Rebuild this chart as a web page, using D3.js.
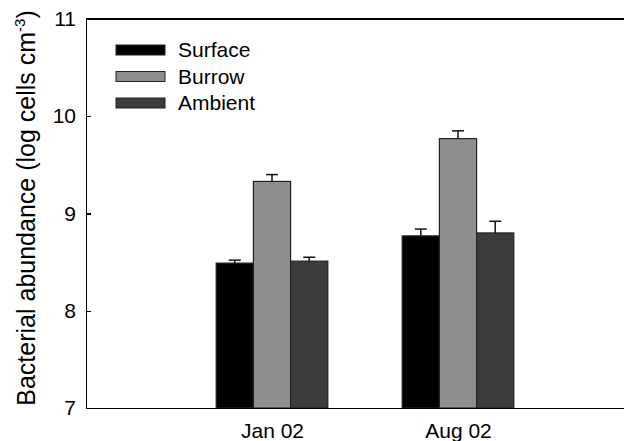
<!DOCTYPE html>
<html>
<head>
<meta charset="utf-8">
<title>bacterial abundance</title>
<script src="https://cdn.jsdelivr.net/npm/d3@7/dist/d3.min.js"></script>
<style>
    body { margin: 0; background: white; }
    svg { display: block; font-family: "Liberation Sans", Arial, sans-serif; }
    .axis path, .axis line { fill: none; stroke: black; stroke-width: 1.3; shape-rendering: crispEdges; }
    .axis text { fill: black; font-size: 21px; }
</style>
</head>
<body>
<script>
    // sampling dates and series
    var dates = ["Jan 02", "Aug 02"];
    var series = ["Surface", "Burrow", "Ambient"];
    var colors = ["#000000", "#8e8e8e", "#3c3c3c"];

    // log cells cm-3, one value per date
    var surface = [8.49, 8.77];
    var burrow = [9.33, 9.77];
    var ambient = [8.51, 8.80];
    // error (upper bar only)
    var surfaceErr = [0.03, 0.07];
    var burrowErr = [0.07, 0.08];
    var ambientErr = [0.04, 0.12];

    var yTicks = [7, 8, 9, 10, 11];

    var w = 624, h = 441;
    var padLeft = 86, padTop = 19, padBottom = 408; // plot frame edges

    var values = [surface, burrow, ambient];
    var errs = [surfaceErr, burrowErr, ambientErr];
    var rows = [];
    series.forEach(function(s, si) {
        dates.forEach(function(d, di) {
            rows.push({ series: s, si: si, di: di, value: values[si][di], err: errs[si][di] });
        });
    });

    // x: dates at 1 and 2, axis runs to 3 (past the window edge)
    var x = d3.scaleLinear().domain([0, 3]).range([padLeft, padLeft + 3 * 186]);
    var inner = d3.scaleBand().domain(series).range([-0.3, 0.3]);
    var y = d3.scaleLinear().domain([7, 11]).range([padBottom, padTop]);

    function barMid(d) {
        return x(d.di + 1 + inner(d.series) + inner.bandwidth() / 2);
    }

    var svg = d3.select("body").append("svg")
        .attr("width", w)
        .attr("height", h);

    // bars
    svg.append("g").selectAll("rect")
        .data(rows)
        .enter()
        .append("rect")
        .attr("x", function(d) { return x(d.di + 1 + inner(d.series)); })
        .attr("width", x(inner.bandwidth()) - x(0))
        .attr("y", function(d) { return y(d.value); })
        .attr("height", function(d) { return y(7) - y(d.value); })
        .attr("fill", function(d) { return colors[d.si]; })
        .attr("stroke", "#222")
        .attr("stroke-width", 1.2);

    // error bars
    var eb = svg.append("g").attr("stroke", "#111").attr("stroke-width", 1.5);
    eb.selectAll("line.v")
        .data(rows)
        .enter()
        .append("line")
        .attr("class", "v")
        .attr("x1", barMid)
        .attr("x2", barMid)
        .attr("y1", function(d) { return y(d.value); })
        .attr("y2", function(d) { return y(d.value + d.err); });
    eb.selectAll("line.cap")
        .data(rows)
        .enter()
        .append("line")
        .attr("class", "cap")
        .attr("x1", function(d) { return barMid(d) - 6; })
        .attr("x2", function(d) { return barMid(d) + 6; })
        .attr("y1", function(d) { return y(d.value + d.err); })
        .attr("y2", function(d) { return y(d.value + d.err); });

    // y axis, ticks pointing inward
    svg.append("g")
        .attr("class", "y axis")
        .attr("transform", "translate(" + padLeft + ",0)")
        .call(d3.axisLeft(y).tickValues(yTicks).tickFormat(d3.format("d"))
            .tickSizeInner(-5).tickSizeOuter(0).tickPadding(10));

    // x axis, labels only
    svg.append("g")
        .attr("class", "x axis")
        .attr("transform", "translate(0," + padBottom + ")")
        .call(d3.axisBottom(x).tickValues([1, 2])
            .tickFormat(function(d) { return dates[d - 1]; })
            .tickSize(0).tickPadding(15));

    // top frame line
    svg.append("line")
        .attr("x1", x(0)).attr("x2", x(3))
        .attr("y1", y(11)).attr("y2", y(11))
        .attr("stroke", "black").attr("stroke-width", 1.3)
        .attr("shape-rendering", "crispEdges");

    // y label
    var yl = svg.append("text")
        .attr("transform", "translate(35,208) rotate(-90)")
        .attr("text-anchor", "middle")
        .attr("font-size", "25px");
    yl.append("tspan").text("Bacterial abundance (log cells cm");
    yl.append("tspan").attr("font-size", "15px").attr("dy", -10).text("-3");
    yl.append("tspan").attr("dy", 10).text(")");

    // legend
    var lg = svg.append("g").selectAll("g")
        .data(series)
        .enter()
        .append("g")
        .attr("transform", function(d, i) { return "translate(116," + (45 + i * 26.5) + ")"; });
    lg.append("rect")
        .attr("width", 49).attr("height", 10)
        .attr("fill", function(d, i) { return colors[i]; })
        .attr("stroke", "#222").attr("stroke-width", 1);
    lg.append("text")
        .attr("x", 62).attr("y", 12)
        .attr("font-size", "21px")
        .text(function(d) { return d; });
</script>
</body>
</html>
